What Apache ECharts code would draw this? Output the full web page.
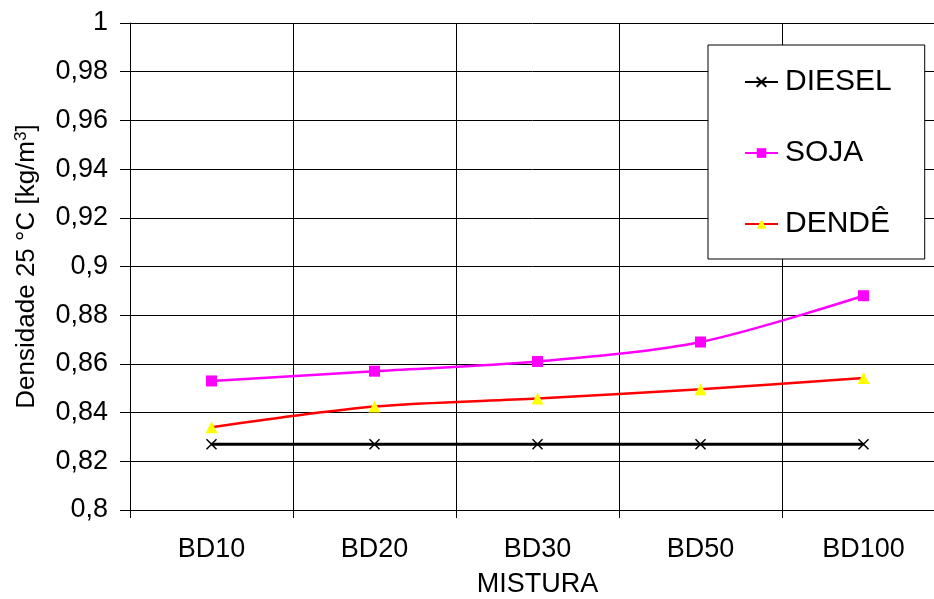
<!DOCTYPE html>
<html>
<head>
<meta charset="utf-8">
<script src="https://cdn.jsdelivr.net/npm/echarts@6/dist/echarts.min.js"></script>
<style>html,body{margin:0;padding:0;background:#fff;}#c{width:934px;height:599px;}</style>
</head>
<body>
<div id="c"></div>
<script>
const categories = ['BD10', 'BD20', 'BD30', 'BD50', 'BD100'];
const diesel = [0.827, 0.827, 0.827, 0.827, 0.827];
const soja = [0.853, 0.857, 0.861, 0.869, 0.888];
const dende = [0.834, 0.8425, 0.8458, 0.8496, 0.8542];
const yMin = 0.8, yMax = 1, yStep = 0.02;

const FONT = 'Liberation Sans';
const chart = echarts.init(document.getElementById('c'), null, {renderer: 'canvas'});
chart.setOption({
  animation: false,
  backgroundColor: '#fff',
  textStyle: {fontFamily: FONT, color: '#000'},
  grid: {left: 130, top: 23, width: 815, height: 487, containLabel: false, outerBoundsMode: 'none'},
  legend: {
    orient: 'vertical',
    left: 708, top: 45,
    padding: [22, 33, 20, 36],
    itemGap: 41,
    itemWidth: 33, itemHeight: 12,
    borderColor: '#000', borderWidth: 1,
    backgroundColor: '#fff',
    textStyle: {fontFamily: FONT, fontSize: 30, color: '#000', padding: [0, 0, 0, 2]},
    data: ['DIESEL', 'SOJA', 'DENDÊ']
  },
  xAxis: {
    type: 'category',
    data: categories,
    boundaryGap: true,
    name: 'MISTURA',
    nameLocation: 'middle',
    nameGap: 61,
    nameTextStyle: {fontFamily: FONT, fontSize: 27, color: '#000'},
    axisLine: {lineStyle: {color: '#000', width: 1}},
    axisTick: {show: true, length: 8, lineStyle: {color: '#000'}},
    axisLabel: {fontFamily: FONT, fontSize: 27, color: '#000', margin: 26},
    splitLine: {show: true, lineStyle: {color: '#000', width: 1}}
  },
  yAxis: {
    type: 'value',
    min: yMin, max: yMax, interval: yStep,
    name: '{t|Densidade 25 °C [kg/m}{s|3}{t|]}',
    nameLocation: 'middle',
    nameGap: 90,
    nameTextStyle: {
      fontFamily: FONT, fontSize: 26, color: '#000',
      rich: {
        t: {fontFamily: FONT, fontSize: 26, color: '#000'},
        s: {fontFamily: FONT, fontSize: 17, color: '#000', verticalAlign: 'top', padding: [0, 0, 10, 0]}
      }
    },
    axisLine: {show: true, lineStyle: {color: '#000', width: 1}},
    axisTick: {show: true, length: 10, inside: false, lineStyle: {color: '#000'}},
    axisLabel: {
      fontFamily: FONT, fontSize: 27, color: '#000', margin: 22,
      formatter: v => String(+v.toFixed(2)).replace('.', ',')
    },
    splitLine: {show: true, lineStyle: {color: '#000', width: 1}}
  },
  series: [
    {
      name: 'DIESEL', type: 'line', data: diesel,
      symbol: 'path://M0,0L10,10M10,0L0,10', symbolSize: 10,
      itemStyle: {color: '#000', borderColor: '#000', borderWidth: 1.5},
      lineStyle: {color: '#000', width: 3}
    },
    {
      name: 'SOJA', type: 'line', data: soja, smooth: 0.3,
      symbol: 'rect', symbolSize: 11,
      itemStyle: {color: '#ff00ff', borderColor: '#ff00ff', borderWidth: 0},
      lineStyle: {color: '#ff00ff', width: 2.5}
    },
    {
      name: 'DENDÊ', type: 'line', data: dende, smooth: 0.3,
      symbol: 'triangle', symbolSize: 12,
      itemStyle: {color: '#ffff00', borderColor: '#ffff00', borderWidth: 0},
      lineStyle: {color: '#ff0000', width: 2.5}
    }
  ]
});
</script>
</body>
</html>
